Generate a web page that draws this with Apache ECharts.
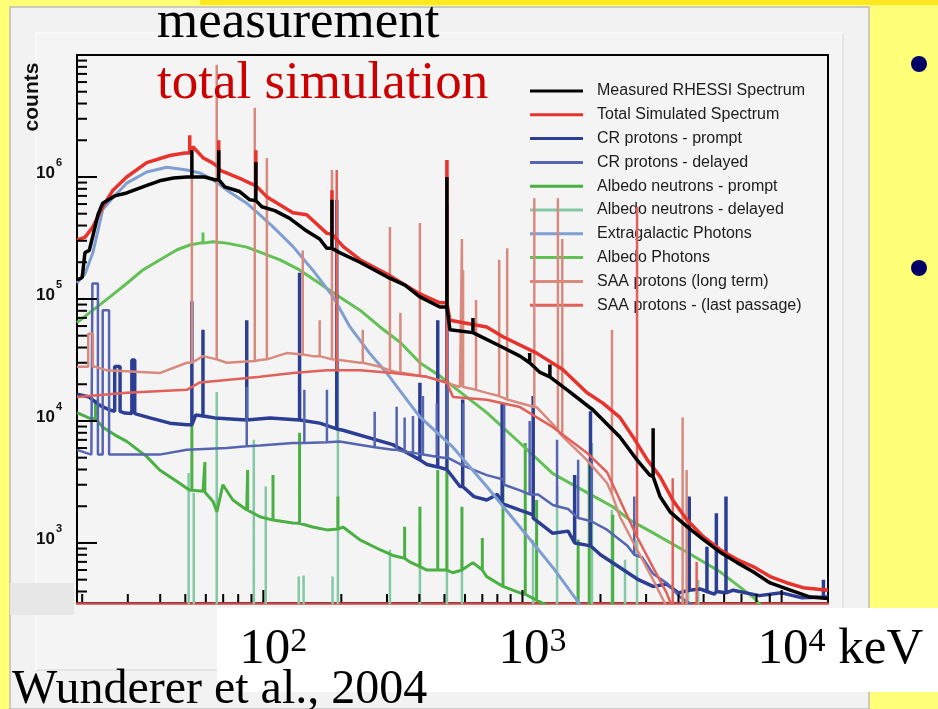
<!DOCTYPE html>
<html><head><meta charset="utf-8">
<script src="https://cdn.jsdelivr.net/npm/echarts@6/dist/echarts.min.js"></script>
<style>html,body{margin:0;padding:0;background:#ffff78}#c{width:938px;height:709px}</style>
</head><body><div id="c"></div>
<script>
// ---------- data (energy keV, counts) ----------
const seriesNames = ['Measured RHESSI Spectrum','Total Simulated Spectrum','CR protons - prompt','CR protons - delayed','Albedo neutrons - prompt','Albedo neutrons - delayed','Extragalactic Photons','Albedo Photons','SAA protons (long term)','SAA protons - (last passage)'];

const measCont = [[19.1,1.43e5],[20,1.5e5],[20.5,2.4e5],[21.3,2.5e5],[22,3.3e5],[23,4.9e5],[24,6.1e5],[26.7,7.0e5],[29.7,7.4e5],[34.9,8.4e5],[39.8,9.3e5],[45,9.8e5],[50.7,1.0e6],[56.9,1.0e6],[59.4,1.0e6],[65,9.5e5],[71,8.3e5],[81,7.6e5],[88.7,6.5e5],[98.7,5.7e5],[110.7,5.3e5],[126,4.6e5],[144.5,3.7e5],[165,3.1e5],[176,2.6e5],[197,2.4e5],[236,2.0e5],[300,1.52e5],[352,1.3e5],[402,1.04e5],[480,8.6e4],[525,5.6e4],[644,5.3e4],[841,4.0e4],[978,3.4e4],[1169,2.5e4],[1487,1.8e4],[1872,1.23e4],[2377,7.4e3],[2765,4.8e3],[3100,3.6e3],[3396,2.4e3],[3710,1.8e3],[4315,1.36e3],[4977,1.07e3],[5790,840],[6735,690],[7760,580],[9030,470],[10800,410],[12900,360],[15100,350]];
const measSpikes = [[53,1.0e6,1.66e6],[67.3,9.5e5,1.66e6],[93.6,6.4e5,1.33e6],[184,2.6e5,6.5e5],[511,8.6e4,1.0e6],[644,5.3e4,7e4],[1066,3.0e4,3.6e4],[1276,2.3e4,2.9e4],[3193,3.5e3,8.7e3]];

const totCont = [[19.1,3.05e5],[20.5,3.2e5],[22,3.9e5],[24,5.7e5],[26.3,7.8e5],[29.7,1.0e6],[35.5,1.31e6],[43.6,1.5e6],[49.8,1.57e6],[53.5,1.77e6],[58.5,1.44e6],[63.9,1.3e6],[67.9,1.14e6],[83.3,9.5e5],[88.7,8.9e5],[103,6.9e5],[130,5.1e5],[147,4.9e5],[176,3.45e5],[203,2.7e5],[236,2.1e5],[300,1.6e5],[402,1.1e5],[480,9.3e4],[525,6.7e4],[728,5.9e4],[841,4.9e4],[1134,3.6e4],[1430,2.64e4],[1770,1.71e4],[2043,1.4e4],[2377,1.07e4],[2670,7.4e3],[3033,4.8e3],[3396,3.5e3],[3800,2.25e3],[4315,1.54e3],[4977,1.13e3],[5790,880],[6735,730],[7760,640],[9030,530],[10500,470],[12100,430],[15100,410]];
const totSpikes = [[52,1.57e6,2.2e6],[67.3,1.2e6,2.0e6],[93.6,8.5e5,1.66e6],[184,3.4e5,7.8e5],[511,9.3e4,1.38e6]];

const cpCont = [[19.1,1.66e4],[21.3,1.57e4],[23.3,1.35e4],[25.5,1.23e4],[29.2,1.16e4],[36.5,1.06e4],[43.6,9.6e3],[50.7,9.3e3],[54.9,1.12e4],[65,1.06e4],[86.3,1.02e4],[106,1.06e4],[138,1.02e4],[165,9.6e3],[203,8.4e3],[316,6.4e3],[428,4.4e3],[574,2.9e3],[650,2.4e3],[728,2.25e3],[800,2.5e3],[978,1.86e3],[1100,1.7e3],[1310,1.2e3],[1500,1.25e3],[1770,960],[2000,800],[2377,630],[2800,500],[3190,440],[3600,460],[4000,390],[4840,420],[5500,380],[6500,410],[8200,370],[10000,390],[12000,355],[15100,360]];
const cpSpikes = [[53,9.3e3,9.6e4],[58.5,1.1e4,5.6e4],[86.3,1.02e4,6.7e4],[138,1.02e4,1.64e5],[192,8.6e3,6.5e5],[402,4.8e3,2.06e4],[471,4.2e3,6.7e4],[511,4e3,6e5],[588,2.9e3,1.5e4],[835,2.1e3,1.4e4],[1100,1.6e3,1.6e4],[1590,1.0e3,3.6e3],[1830,950,1.2e4],[4400,410,2.4e3],[5150,400,930],[5600,400,1.75e3],[6100,390,2.4e3],[14500,360,500]];
const cpBoxes = [[26.7,28.0,1.2e4,2.8e4],[31.1,31.9,1.15e4,3.16e4]];

const cdCont = [[19.1,5.8e3],[21.7,5.3e3],[30.5,5.3e3],[39.8,5.3e3],[50.7,5.8e3],[72.3,6.0e3],[97,6.3e3],[130,6.6e3],[197,6.8e3],[316,5.8e3],[495,5.0e3],[600,4.2e3],[728,3.6e3],[850,3.3e3],[978,2.7e3],[1150,2.5e3],[1310,2.05e3],[1500,1.9e3],[1770,1.54e3],[2100,1.3e3],[2540,950],[2900,760],[3190,560],[3600,470],[4060,360],[4840,280],[15100,200]];
const cdSpikes = [[86.3,6.2e3,1.9e4],[144,6.6e3,1.8e4],[176,6.7e3,1.8e4],[269,6.1e3,1.19e4],[327,5.8e3,1.31e4],[351,5.6e3,1.07e4],[378,5.5e3,1.1e4],[413,5.3e3,1.6e4],[467,5.1e3,1.4e4],[514,5.0e3,1.9e4],[590,4.3e3,1.4e4],[850,3.0e3,1.4e4],[1066,2.5e3,1.0e4],[1360,2.0e3,7e3],[1640,1.6e3,4.8e3],[1850,1.5e3,4.8e3],[2700,800,2.4e3]];
const cdBoxes = [[21.9,23.0,5.3e3,1.34e5],[24.0,25.4,5.3e3,8.1e4]];

const npCont = [[19.1,1.17e4],[21.4,1.05e4],[24,8.9e3],[26.7,7.7e3],[29.7,6.8e3],[35.5,5.1e3],[39.8,3.96e3],[46.3,3.2e3],[52,2.7e3],[58.5,2.66e3],[63.9,2.2e3],[66.2,1.8e3],[69.8,3.0e3],[76.3,2.25e3],[86.3,1.86e3],[97,1.64e3],[109,1.54e3],[130,1.46e3],[155,1.35e3],[176,1.28e3],[203,1.35e3],[236,1.06e3],[282,880],[316,790],[367,700],[428,600],[495,600],[539,570],[644,690],[728,530],[841,440],[978,390],[1134,340],[1310,290],[1600,240],[3000,200],[15100,150]];
const npSpikes = [[22.5,1.05e4,1.49e4],[53,2.7e3,9.6e3],[59.5,2.6e3,4.6e3],[87,1.86e3,3.96e3],[109,1.54e3,3.6e3],[138,1.45e3,8e3],[194,1.3e3,2.4e3],[351,750,1.36e3],[402,640,1.98e3],[471,600,3.96e3],[511,600,3.96e3],[584,600,1.98e3],[700,600,1.1e3],[841,440,4.8e3],[1025,380,6.6e3],[1134,340,2.25e3],[1640,240,1070],[1810,240,4800],[2230,230,1700]];

const ndCont = [[19.1,250],[15100,250]];
const ndSpikes = [[51.5,250,3.75e3],[53.9,250,2.57e3],[66.1,250,1.73e4],[91.9,250,7e3],[102.2,250,2.9e3],[137,250,530],[143,250,540],[185,250,530],[194,250,3.16e4],[308,250,880],[402,250,1360],[511,250,3.96e3],[584,250,730],[1099,250,1060],[1360,250,2900],[1637,250,730],[1854,250,6600],[2213,250,1860],[2487,250,730],[2768,250,1060],[4357,250,550],[4766,250,500]];

const egCont = [[19.1,1.35e5],[20.5,1.6e5],[22,2.4e5],[24,5.4e5],[26.3,6.8e5],[29.7,8.9e5],[35.5,1.1e6],[42.4,1.2e6],[50.7,1.14e6],[56.9,1.08e6],[63.9,9.5e5],[72.3,7.8e5],[86.3,6.1e5],[97,4.9e5],[109,3.9e5],[130,2.7e5],[155,1.73e5],[186,1.04e5],[216,5.9e4],[257,3.6e4],[300,2.46e4],[358,1.49e4],[402,1.08e4],[539,6.1e3],[728,2.9e3],[978,1.35e3],[1310,630],[1620,340],[1800,240]];

const apCont = [[19.1,6.4e4],[22,8.1e4],[25.6,1.04e5],[29.7,1.34e5],[34.3,1.73e5],[39.8,2.09e5],[46.3,2.52e5],[52,2.77e5],[56.9,2.87e5],[63.9,2.95e5],[72.3,2.87e5],[86.3,2.66e5],[97,2.42e5],[116,2.09e5],[138,1.73e5],[165,1.34e5],[197,1.04e5],[236,8.1e4],[282,5.9e4],[338,4.4e4],[402,3.0e4],[480,2.34e4],[539,1.92e4],[728,1.17e4],[978,6.6e3],[1310,3.7e3],[1770,2.6e3],[2230,1.98e3],[2600,1.54e3],[3190,1.21e3],[4315,840],[5790,580],[7760,360],[8400,300]];
const apSpikes = [[58.5,2.87e5,3.5e5]];

const slCont = [[19.1,2.78e4],[22.5,2.78e4],[24.9,2.6e4],[39.8,2.47e4],[50.7,3.0e4],[58.5,3.4e4],[72.3,3.0e4],[97,3.16e4],[123,3.6e4],[155,3.4e4],[197,3.16e4],[236,3.0e4],[282,2.78e4],[338,2.47e4],[428,2.3e4],[574,1.9e4],[728,1.7e4],[1134,1.3e4],[1395,7.9e3],[1770,4.8e3],[2120,3.1e3],[2377,1.64e3],[2768,880],[3190,500],[3600,300],[4000,200]];
const slSpikes = [[53,3.0e4,1.38e6],[66.1,3.2e4,8.3e6],[92.7,3.1e4,3.7e6],[103.2,3.2e4,1.43e6],[142,3.5e4,2.5e5],[165,3.4e4,6.7e4],[184,3.2e4,1.14e6],[242,3.0e4,5.6e4],[308,2.6e4,3.9e5],[338,2.5e4,7.7e4],[402,2.35e4,4.2e5],[584,1.9e4,3.1e5],[590,1.9e4,1.73e5],[662,1.8e4,9.8e4],[813,1.6e4,2.1e5],[873,1.5e4,2.6e5],[1111,1.3e4,6.7e5],[1370,8.5e3,6.7e5],[1424,7.5e3,3.1e5],[2215,2.5e3,5.6e4],[4150,250,1.07e4],[4300,250,3.96e3]];
const slBoxes = [[21.1,22.0,2.78e4,5.2e4]];

const spCont = [[19.1,1.57e4],[29.7,1.7e4],[50.7,1.8e4],[56.9,2.07e4],[72.3,2.17e4],[97,2.3e4],[130,2.47e4],[176,2.6e4],[236,2.6e4],[316,2.47e4],[428,2.3e4],[511,2.07e4],[539,1.57e4],[728,1.49e4],[978,1.3e4],[1310,8.9e3],[1770,5.5e3],[2120,3.8e3],[2377,2.25e3],[2768,1.12e3],[3190,630],[3600,390],[3800,290],[4200,200]];
const spSpikes = [[192,2.6e4,1.14e6],[511,2.07e4,1.38e6],[2768,1.12e3,5.7e5],[3800,290,3.4e3],[4700,200,700]];

// axis ticks / labels
const yMajorTicks = [1e3,1e4,1e5,1e6];
const yMinorTicks = [400,500,600,700,800,900,2e3,3e3,4e3,5e3,6e3,7e3,8e3,9e3,2e4,3e4,4e4,5e4,6e4,7e4,8e4,9e4,2e5,3e5,4e5,5e5,6e5,7e5,8e5,9e5,2e6,3e6,4e6,5e6,6e6,7e6,8e6,9e6];
const xMajorTicks = [100,1000,10000];
const xMinorTicks = [20,30,40,50,60,70,80,90,200,300,400,500,600,700,800,900,2000,3000,4000,5000,6000,7000,8000,9000];
const xLabelValues = [100,1000,10000];
const xLabelExp = ['2','3','4'];
const xLabelUnit = ['','',' keV'];

const X_MIN = 19.1, X_MAX = 15100, Y_MIN = 322, Y_MAX = 1e7;

// ---------- build ----------
function build(cont, spikes, boxes) {
  const pts = cont.map(p => ({e: p[0], o: 0, list: [[p[0], p[1]]]}));
  (spikes || []).forEach(s => pts.push({e: s[0], o: 1, list: [[s[0], s[1]], [s[0], s[2]], [s[0], s[1]]]}));
  (boxes || []).forEach(b => pts.push({e: b[0], o: 1, list: [[b[0], b[2]], [b[0], b[3]], [b[1], b[3]], [b[1], b[2]]]}));
  pts.sort((a, b) => a.e - b.e || a.o - b.o);
  const out = [];
  pts.forEach(p => p.list.forEach(q => out.push(q)));
  return out;
}

const defs = [
  {name: seriesNames[0], data: build(measCont, measSpikes), color: '#000000', w: 3.5, z: 9},
  {name: seriesNames[1], data: build(totCont, totSpikes), color: '#e8322c', w: 3.5, z: 8},
  {name: seriesNames[2], data: build(cpCont, cpSpikes, cpBoxes), color: '#2c3e94', w: 3.5, z: 5},
  {name: seriesNames[3], data: build(cdCont, cdSpikes, cdBoxes), color: '#5565b0', w: 2.5, z: 5},
  {name: seriesNames[4], data: build(npCont, npSpikes), color: '#4bb043', w: 3, z: 4},
  {name: seriesNames[5], data: build(ndCont, ndSpikes), color: '#84c8a6', w: 2.5, z: 3},
  {name: seriesNames[6], data: build(egCont), color: '#7f9fd1', w: 3, z: 6},
  {name: seriesNames[7], data: build(apCont, apSpikes), color: '#62c055', w: 3, z: 4},
  {name: seriesNames[8], data: build(slCont, slSpikes, slBoxes), color: '#d98a7e', w: 2.5, z: 7},
  {name: seriesNames[9], data: build(spCont, spSpikes), color: '#e2605a', w: 2.5, z: 7}
];

const series = defs.map(d => ({
  type: 'line', name: d.name, data: d.data, symbol: 'none', showSymbol: false,
  lineStyle: {color: d.color, width: d.w}, itemStyle: {color: d.color},
  z: d.z, animation: false, clip: true, silent: true
}));

const tickData = [];
yMajorTicks.forEach(v => tickData.push([X_MIN, v, 20, 0]));
yMinorTicks.forEach(v => tickData.push([X_MIN, v, 10, 0]));
xMajorTicks.forEach(v => tickData.push([v, Y_MIN, 12, 1]));
xMinorTicks.forEach(v => tickData.push([v, Y_MIN, 8, 1]));

series.push({
  type: 'custom', name: 'ticks', data: tickData, clip: false, z: 12, silent: true,
  encode: {x: 0, y: 1},
  renderItem: function (params, api) {
    const p = api.coord([api.value(0), api.value(1)]);
    const len = api.value(2);
    if (api.value(3) === 0) {
      return {type: 'line', shape: {x1: p[0], y1: p[1], x2: p[0] + len, y2: p[1]}, style: {stroke: '#000', lineWidth: 2}};
    }
    return {type: 'line', shape: {x1: p[0], y1: p[1] - 1, x2: p[0], y2: p[1] - 1 - len}, style: {stroke: '#000', lineWidth: 2}};
  }
});

series.push({
  type: 'custom', name: 'xlabels', data: xLabelValues.map(v => [v, Y_MIN]), clip: false, z: 30, silent: true,
  encode: {x: 0, y: 1},
  renderItem: function (params, api) {
    const p = api.coord([api.value(0), api.value(1)]);
    const i = params.dataIndex;
    return {
      type: 'text', x: p[0] - 24, y: p[1] + 22, z2: 100,
      style: {
        text: '{a|10}{s|' + xLabelExp[i] + '}' + (xLabelUnit[i] ? '{a|' + xLabelUnit[i] + '}' : ''),
        align: 'left', verticalAlign: 'top',
        rich: {
          a: {fontFamily: 'Liberation Serif', fontSize: 51, lineHeight: 50, fill: '#000', verticalAlign: 'bottom'},
          s: {fontFamily: 'Liberation Serif', fontSize: 34, lineHeight: 34, fill: '#000', verticalAlign: 'top'}
        }
      }
    };
  }
});

const chart = echarts.init(document.getElementById('c'), null, {renderer: 'canvas'});
chart.setOption({
  animation: false,
  backgroundColor: '#ffff78',
  grid: {left: 77, right: 110, top: 55, bottom: 106, show: true, borderColor: '#000', borderWidth: 2, backgroundColor: 'transparent'},
  xAxis: {
    type: 'log', logBase: 10, min: X_MIN, max: X_MAX,
    axisLine: {show: true, lineStyle: {color: '#cc4b48', width: 2.5}},
    axisTick: {show: false}, axisLabel: {show: false}, splitLine: {show: false}, minorTick: {show: false}
  },
  yAxis: {
    type: 'log', logBase: 10, min: Y_MIN, max: Y_MAX,
    axisLine: {show: false}, axisTick: {show: false}, splitLine: {show: false},
    axisLabel: {
      margin: 15, padding: [0, 0, 8, 0],
      formatter: function (v) {
        const e = Math.log10(v);
        const r = Math.round(e);
        if (Math.abs(e - r) > 1e-6 || r >= 7) return '';
        return '{b|10}{s|' + r + '}';
      },
      rich: {
        b: {fontFamily: 'Liberation Sans', fontWeight: 'bold', fontSize: 17, lineHeight: 17, color: '#111', verticalAlign: 'bottom'},
        s: {fontFamily: 'Liberation Sans', fontWeight: 'bold', fontSize: 11, lineHeight: 11, color: '#111', verticalAlign: 'bottom', padding: [0, 0, 13, 1]}
      }
    }
  },
  legend: {
    left: 530, top: 83, padding: 0, orient: 'vertical', itemWidth: 53, itemHeight: 3, itemGap: 7.8, icon: 'rect',
    selectedMode: false, data: seriesNames,
    textStyle: {fontFamily: 'Liberation Sans', fontSize: 16, color: '#1c1c1c', lineHeight: 16, padding: [0, 0, 0, 9]}
  },
  graphic: [
    {type: 'rect', z: -100, shape: {x: 200, y: 0, width: 738, height: 5}, style: {fill: '#ffe820'}},
    {type: 'rect', z: -99, shape: {x: 10, y: 7, width: 859, height: 702}, style: {fill: '#f2f2f2', stroke: '#bdbdbd', lineWidth: 1.5}},
    {type: 'rect', z: -98, shape: {x: 36, y: 33, width: 807, height: 637}, style: {fill: '#f4f4f4', stroke: '#d6d6d6', lineWidth: 1}},
    {type: 'line', z: -97, shape: {x1: 36, y1: 33, x2: 843, y2: 33}, style: {stroke: '#ffffff', lineWidth: 1.5}},
    {type: 'line', z: -97, shape: {x1: 36, y1: 33, x2: 36, y2: 670}, style: {stroke: '#ffffff', lineWidth: 1.5}},
    {type: 'rect', z: -96, shape: {x: 10, y: 583, width: 64, height: 32}, style: {fill: '#e7e7e7'}},
    {type: 'rect', z: -95, shape: {x: 217, y: 608, width: 721, height: 84}, style: {fill: '#ffffff'}},
    {type: 'circle', z: 50, shape: {cx: 919, cy: 64, r: 8}, style: {fill: '#000066'}},
    {type: 'circle', z: 50, shape: {cx: 919, cy: 268, r: 8}, style: {fill: '#000066'}},
    {type: 'text', z: 100, x: 157, y: 23, style: {text: 'measurement', fontFamily: 'Liberation Serif', fontSize: 53, fill: '#000', verticalAlign: 'middle'}},
    {type: 'text', z: 100, x: 157, y: 84, style: {text: 'total simulation', fontFamily: 'Liberation Serif', fontSize: 53, fill: '#cc0000', verticalAlign: 'middle'}},
    {type: 'text', z: 100, x: 12, y: 690, style: {text: 'Wunderer et al., 2004', fontFamily: 'Liberation Serif', fontSize: 48, fill: '#000', verticalAlign: 'middle'}},
    {type: 'text', z: 100, x: 32, y: 97, rotation: Math.PI / 2, style: {text: 'counts', fontFamily: 'Liberation Sans', fontWeight: 'bold', fontSize: 21, fill: '#111', align: 'center', verticalAlign: 'middle'}}
  ],
  series: series
});
</script></body></html>
